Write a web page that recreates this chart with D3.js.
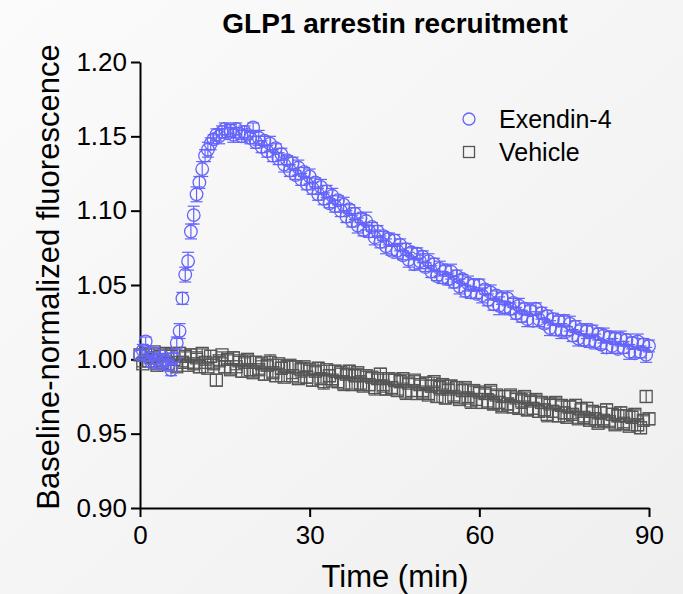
<!DOCTYPE html>
<html>
<head>
<meta charset="utf-8">
<script src="https://cdn.jsdelivr.net/npm/d3@7/dist/d3.min.js"></script>
<style>
    html, body { margin: 0; padding: 0; }
    body { width: 683px; height: 594px; overflow: hidden; }
    svg { display: block; font-family: Arial, "Liberation Sans", sans-serif; }
</style>
</head>
<body>
<div id="chart"></div>
<script>
'use strict';

// One reading every 30 s (minutes)
const timeStep = 0.5;

const seriesNames = ['Exendin-4', 'Vehicle'];

const exendinMean = [
    1.003, 1.006, 1.012, 1.001, 0.998, 1.004, 1.000, 0.997, 1.002, 0.999,
    0.996, 0.993, 1.001, 1.011, 1.019, 1.041, 1.057, 1.066, 1.086, 1.097,
    1.111, 1.119, 1.128, 1.137, 1.141, 1.145, 1.148, 1.151, 1.150, 1.153,
    1.155, 1.152, 1.154, 1.151, 1.155, 1.152, 1.150, 1.153, 1.151, 1.149,
    1.156, 1.146, 1.149, 1.143, 1.147, 1.140, 1.145, 1.137, 1.142, 1.135,
    1.138, 1.131, 1.134, 1.127, 1.132, 1.124, 1.129, 1.121, 1.126, 1.118,
    1.123, 1.115, 1.119, 1.111, 1.116, 1.108, 1.113, 1.105, 1.110, 1.103,
    1.107, 1.100, 1.104, 1.096, 1.101, 1.093, 1.098, 1.090, 1.095, 1.087,
    1.093, 1.086, 1.089, 1.082, 1.086, 1.079, 1.083, 1.076, 1.081, 1.073,
    1.080, 1.073, 1.077, 1.070, 1.074, 1.067, 1.072, 1.064, 1.071, 1.066,
    1.069, 1.062, 1.066, 1.059, 1.064, 1.056, 1.061, 1.055, 1.060, 1.054,
    1.059, 1.052, 1.056, 1.049, 1.054, 1.046, 1.051, 1.045, 1.050, 1.044,
    1.050, 1.043, 1.047, 1.040, 1.045, 1.037, 1.043, 1.036, 1.041, 1.035,
    1.041, 1.034, 1.038, 1.031, 1.036, 1.029, 1.034, 1.027, 1.033, 1.026,
    1.034, 1.027, 1.031, 1.024, 1.029, 1.021, 1.027, 1.020, 1.026, 1.019,
    1.026, 1.019, 1.024, 1.016, 1.022, 1.014, 1.020, 1.013, 1.019, 1.012,
    1.019, 1.012, 1.017, 1.010, 1.016, 1.008, 1.015, 1.009, 1.014, 1.007,
    1.014, 1.008, 1.013, 1.005, 1.011, 1.004, 1.012, 1.005, 1.010, 1.003,
    1.009
];

const exendinSem = [
    .003, .004, .003, .002, .003, .004, .003, .003, .002, .003,
    .003, .004, .003, .004, .005, .004, .005, .006, .005, .006,
    .005, .004, .005, .004, .005, .004, .003, .004, .005, .004,
    .004, .003, .004, .005, .004, .003, .004, .004, .003, .004,
    .003, .004, .005, .004, .003, .004, .005, .004, .003, .004,
    .004, .005, .003, .004, .004, .003, .005, .004, .003, .004,
    .005, .004, .003, .004, .005, .004, .004, .003, .005, .004,
    .003, .004, .005, .004, .003, .004, .004, .005, .003, .004,
    .006, .004, .003, .005, .004, .004, .003, .005, .004, .003,
    .004, .005, .004, .003, .004, .005, .003, .004, .004, .005,
    .004, .003, .005, .004, .004, .003, .005, .004, .003, .004,
    .005, .004, .004, .005, .003, .004, .005, .004, .004, .003,
    .004, .005, .003, .004, .005, .004, .003, .006, .004, .004,
    .005, .004, .003, .004, .005, .004, .004, .005, .003, .004,
    .004, .005, .004, .003, .004, .005, .004, .004, .003, .005,
    .004, .003, .005, .004, .004, .005, .003, .004, .005, .004,
    .004, .005, .004, .003, .005, .004, .004, .005, .004, .003,
    .005, .004, .004, .005, .004, .003, .005, .004, .004, .005,
    .004
];

const vehicleMean = [
    1.003, 0.997, 1.004, 0.999, 1.001, 1.005, 0.996, 1.002, 0.998, 1.004,
    0.997, 1.003, 1.000, 0.995, 1.004, 0.998, 1.002, 0.996, 1.003, 0.997,
    1.001, 0.995, 1.004, 0.998, 0.994, 1.002, 0.997, 0.986, 0.999, 1.003,
    0.995, 1.000, 0.993, 1.001, 0.995, 0.999, 0.992, 0.998, 1.000, 0.993,
    0.991, 0.998, 0.993, 0.997, 0.990, 0.996, 0.998, 0.991, 0.989, 0.997,
    0.994, 0.988, 0.995, 0.996, 0.989, 0.995, 0.987, 0.993, 0.995, 0.988,
    0.993, 0.986, 0.992, 0.994, 0.987, 0.985, 0.993, 0.989, 0.986, 0.992,
    0.985, 0.991, 0.984, 0.990, 0.992, 0.983, 0.989, 0.991, 0.984, 0.982,
    0.989, 0.983, 0.988, 0.981, 0.987, 0.990, 0.982, 0.980, 0.987, 0.981,
    0.986, 0.979, 0.985, 0.987, 0.978, 0.984, 0.979, 0.986, 0.977, 0.983,
    0.978, 0.984, 0.976, 0.982, 0.985, 0.975, 0.981, 0.983, 0.974, 0.980,
    0.982, 0.975, 0.981, 0.973, 0.979, 0.981, 0.974, 0.972, 0.979, 0.973,
    0.978, 0.971, 0.977, 0.972, 0.979, 0.970, 0.976, 0.971, 0.968, 0.975,
    0.970, 0.976, 0.968, 0.974, 0.967, 0.972, 0.975, 0.966, 0.972, 0.967,
    0.973, 0.965, 0.971, 0.966, 0.963, 0.970, 0.965, 0.971, 0.962, 0.969,
    0.964, 0.961, 0.968, 0.963, 0.969, 0.960, 0.966, 0.961, 0.967, 0.959,
    0.965, 0.960, 0.957, 0.964, 0.959, 0.966, 0.958, 0.963, 0.956, 0.962,
    0.964, 0.957, 0.962, 0.955, 0.961, 0.963, 0.956, 0.954, 0.959, 0.975,
    0.960
];

const vehicleSem = [
    .003, .002, .003, .004, .003, .002, .003, .004, .003, .003,
    .004, .003, .002, .003, .004, .003, .003, .002, .004, .003,
    .003, .004, .003, .002, .003, .004, .003, .004, .003, .002,
    .004, .003, .003, .004, .002, .003, .004, .003, .003, .004,
    .003, .004, .003, .002, .004, .003, .005, .003, .004, .003,
    .004, .003, .004, .003, .002, .004, .003, .005, .003, .004,
    .003, .004, .003, .004, .003, .005, .003, .004, .003, .004,
    .004, .003, .005, .003, .004, .003, .004, .003, .005, .003,
    .003, .004, .003, .005, .003, .004, .003, .004, .003, .004,
    .004, .003, .004, .003, .005, .003, .004, .003, .004, .003,
    .003, .004, .003, .004, .003, .004, .005, .003, .004, .003,
    .004, .003, .004, .003, .004, .003, .003, .005, .003, .004,
    .003, .004, .003, .005, .003, .004, .003, .004, .003, .004,
    .004, .003, .004, .003, .004, .005, .003, .004, .003, .004,
    .003, .004, .003, .004, .005, .003, .004, .003, .004, .003,
    .004, .003, .004, .003, .004, .003, .005, .003, .004, .003,
    .003, .004, .003, .004, .003, .004, .003, .004, .003, .004,
    .004, .003, .004, .003, .004, .003, .004, .004, .003, .004,
    .004
];

const xTicks = [0, 30, 60, 90];
const yTicks = [0.90, 0.95, 1.00, 1.05, 1.10, 1.15, 1.20];

const colors = { exendin: '#6464fa', vehicle: '#555555' };

const width = 683, height = 594;
const plot = { left: 140, right: 649, top: 62, bottom: 508 };

const svg = d3.select('#chart').append('svg')
    .attr('width', width)
    .attr('height', height);

// soft grey page background
const grad = svg.append('defs').append('linearGradient')
    .attr('id', 'bg')
    .attr('x1', 0).attr('y1', 0).attr('x2', 1).attr('y2', 1);
grad.append('stop').attr('offset', 0).attr('stop-color', '#fbfbfb');
grad.append('stop').attr('offset', 1).attr('stop-color', '#efefef');

svg.append('rect')
    .attr('width', width).attr('height', height)
    .attr('fill', 'url(#bg)');

const x = d3.scaleLinear().domain([0, 90]).range([plot.left, plot.right]);
const y = d3.scaleLinear().domain([0.90, 1.20]).range([plot.bottom, plot.top]);

const toPoints = (mean, sem) => mean.map((v, i) => ({ t: i * timeStep, v, e: sem[i] }));

const series = [
    { name: seriesNames[1], key: 'vehicle', points: toPoints(vehicleMean, vehicleSem) },
    { name: seriesNames[0], key: 'exendin', points: toPoints(exendinMean, exendinSem) }
];

// Axes
const axisX = svg.append('g')
    .attr('transform', `translate(0, ${plot.bottom})`)
    .call(d3.axisBottom(x).tickValues(xTicks).tickSize(9).tickPadding(9).tickSizeOuter(0));

const axisY = svg.append('g')
    .attr('transform', `translate(${plot.left}, 0)`)
    .call(d3.axisLeft(y).tickValues(yTicks).tickSize(9).tickPadding(4)
        .tickFormat(d3.format('.2f')).tickSizeOuter(0));

[axisX, axisY].forEach(a => {
    a.select('.domain').attr('stroke', '#000').attr('stroke-width', 2);
    a.selectAll('.tick line').attr('stroke', '#000').attr('stroke-width', 2);
    a.selectAll('.tick text')
        .attr('fill', '#000')
        .style('font-size', '26px')
        .style('font-family', 'Arial, "Liberation Sans", sans-serif');
});

// Error bars and markers
const cap = 6;
const half = 6;

series.forEach(s => {
    const g = svg.append('g').attr('class', s.key);
    const col = colors[s.key];

    const err = g.selectAll('g.err')
        .data(s.points)
        .join('g')
        .attr('class', 'err')
        .attr('stroke', col)
        .attr('stroke-width', 1.2);

    err.append('line')
        .attr('x1', d => x(d.t)).attr('x2', d => x(d.t))
        .attr('y1', d => y(d.v - d.e)).attr('y2', d => y(d.v + d.e));
    err.append('line')
        .attr('x1', d => x(d.t) - cap).attr('x2', d => x(d.t) + cap)
        .attr('y1', d => y(d.v + d.e)).attr('y2', d => y(d.v + d.e));
    err.append('line')
        .attr('x1', d => x(d.t) - cap).attr('x2', d => x(d.t) + cap)
        .attr('y1', d => y(d.v - d.e)).attr('y2', d => y(d.v - d.e));

    if (s.key === 'exendin') {
        g.selectAll('circle')
            .data(s.points)
            .join('circle')
            .attr('cx', d => x(d.t))
            .attr('cy', d => y(d.v))
            .attr('r', 6.3)
            .attr('fill', 'none')
            .attr('stroke', col)
            .attr('stroke-width', 1.3);
    } else {
        g.selectAll('rect')
            .data(s.points)
            .join('rect')
            .attr('x', d => x(d.t) - half)
            .attr('y', d => y(d.v) - half)
            .attr('width', half * 2)
            .attr('height', half * 2)
            .attr('fill', 'none')
            .attr('stroke', col)
            .attr('stroke-width', 1.3);
    }
});

// Title and axis labels
svg.append('text')
    .attr('x', 395).attr('y', 33)
    .attr('text-anchor', 'middle')
    .style('font-size', '28px')
    .style('font-weight', 'bold')
    .text('GLP1 arrestin recruitment');

svg.append('text')
    .attr('x', 395).attr('y', 587)
    .attr('text-anchor', 'middle')
    .style('font-size', '31px')
    .text('Time (min)');

svg.append('text')
    .attr('transform', `translate(59, ${(plot.top + plot.bottom) / 2 - 8}) rotate(-90)`)
    .attr('text-anchor', 'middle')
    .style('font-size', '31px')
    .text('Baseline-normalized fluorescence');

// Legend
const legend = svg.append('g').attr('transform', 'translate(469, 119)');

legend.append('circle')
    .attr('cx', 0).attr('cy', 0).attr('r', 6)
    .attr('fill', 'none').attr('stroke', colors.exendin).attr('stroke-width', 1.3);
legend.append('rect')
    .attr('x', -5.5).attr('y', 33 - 5.5)
    .attr('width', 11).attr('height', 11)
    .attr('fill', 'none').attr('stroke', colors.vehicle).attr('stroke-width', 1.3);

legend.selectAll('text.label')
    .data(seriesNames)
    .join('text')
    .attr('class', 'label')
    .attr('x', 30)
    .attr('y', (d, i) => i * 33 + 9)
    .style('font-size', '25px')
    .text(d => d);
</script>
</body>
</html>
